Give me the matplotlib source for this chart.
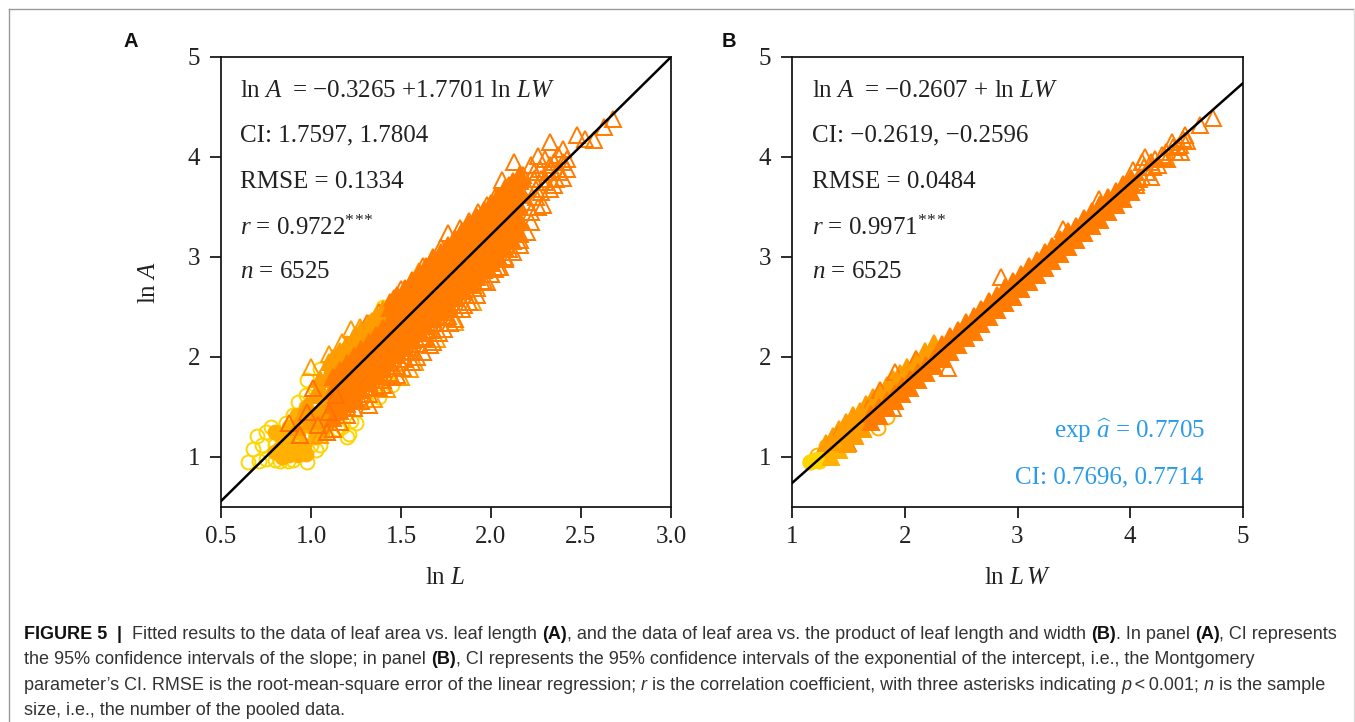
import matplotlib
matplotlib.use("Agg")
import matplotlib.pyplot as plt
from matplotlib.lines import Line2D

W, H = 1355, 722

plt.rcParams['font.family'] = ['Liberation Serif', 'DejaVu Serif']
plt.rcParams['mathtext.fontset'] = 'custom'
plt.rcParams['mathtext.rm'] = 'Liberation Serif'
plt.rcParams['mathtext.it'] = 'Liberation Serif:italic'
plt.rcParams['mathtext.bf'] = 'Liberation Serif:bold'

YELLOW = '#FFD500'
GOLD = '#FFB000'
AMBER = '#FF9C00'
ORANGE = '#FF7C00'
BLUE = '#2A9BE8'

# panel A, values
a_circle_x = [0.65, 0.71, 0.75, 0.80, 0.83, 0.87, 0.90, 0.98, 0.68, 0.70, 0.73, 0.75, 0.78, 0.80, 0.82, 0.85,
              0.86, 0.88, 0.90, 0.92, 0.93, 0.95, 0.97, 0.98, 1.00, 1.02, 1.03, 1.05, 1.05, 1.08, 1.10, 1.15,
              1.17, 1.20, 1.21, 1.22, 1.25, 1.30, 1.38, 1.45, 1.42, 1.40, 1.37]
a_circle_y = [0.95, 0.96, 0.98, 0.97, 0.96, 0.96, 0.97, 0.95, 1.08, 1.21, 1.12, 1.25, 1.30, 1.12, 1.22, 1.05,
              1.34, 1.15, 1.42, 1.05, 1.55, 1.20, 1.62, 1.77, 1.12, 1.68, 1.07, 1.12, 1.88, 1.24, 1.35, 1.28,
              1.30, 1.20, 1.23, 1.36, 1.34, 1.55, 1.60, 1.72, 1.78, 2.50, 2.38]
a_gold_x = [0.82, 0.86, 0.90, 0.93, 0.96, 0.99, 1.03, 0.88, 0.92, 0.97, 1.02, 1.07, 1.12, 0.80, 0.84, 0.88, 0.93, 0.97,
            0.84, 0.80, 1.06, 1.10, 0.88, 0.94]
a_gold_y = [1.08, 1.16, 1.06, 1.25, 1.12, 1.32, 1.20, 1.30, 1.42, 1.50, 1.34, 1.42, 1.50, 1.05, 1.00, 1.02, 1.02, 1.03,
            1.20, 1.25, 1.24, 1.36, 1.12, 1.40]
a_amber_core_x = [0.92, 0.95, 0.98, 1.02, 1.05, 1.08, 1.10, 1.13, 1.15, 1.18, 1.20, 1.23, 1.25, 1.30, 1.35, 1.40, 1.46,
                  1.00, 1.04, 1.08, 1.12, 1.16, 1.06, 1.10, 1.28, 1.33, 1.38, 1.44, 1.50]
a_amber_core_y = [1.30, 1.42, 1.52, 1.62, 1.78, 1.55, 1.95, 1.72, 2.02, 1.85, 2.10, 1.95, 2.22, 2.20, 2.28, 2.40, 2.50,
                  1.36, 1.44, 1.38, 1.50, 1.62, 1.66, 1.84, 2.10, 2.16, 2.30, 2.38, 2.55]
a_amber_x = [1.10, 1.22, 1.17, 1.27, 1.05, 1.12, 1.35, 1.42, 1.50, 1.58, 1.70, 1.80, 1.90, 1.86, 2.00, 1.55, 1.00, 1.34, 1.60]
a_amber_y = [2.03, 2.28, 2.15, 2.30, 1.22, 1.28, 1.58, 1.68, 1.80, 1.95, 2.18, 2.35, 2.55, 2.62, 2.83, 1.88, 1.90, 2.36, 2.86]
a_core_x = [1.12, 1.16, 1.20, 1.24, 1.28, 1.32, 1.36, 1.40, 1.44, 1.48, 1.52, 1.56, 1.60, 1.64, 1.68, 1.72, 1.76, 1.80,
            1.84, 1.88, 1.92, 1.96, 2.00, 2.04, 2.08, 2.12, 2.16]
a_core_mid = [1.66, 1.73, 1.80, 1.87, 1.94, 2.01, 2.08, 2.15, 2.22, 2.29, 2.36, 2.44, 2.51, 2.58, 2.65, 2.72, 2.79, 2.86,
              2.93, 3.00, 3.07, 3.14, 3.21, 3.28, 3.36, 3.43, 3.50]
a_core_up = [1.80, 1.87, 1.94, 2.01, 2.08, 2.15, 2.22, 2.29, 2.36, 2.43, 2.50, 2.57, 2.65, 2.72, 2.79, 2.86, 2.93, 3.00,
             3.07, 3.14, 3.21, 3.28, 3.35, 3.42, 3.50, 3.57, 3.64]
a_core_up2 = [1.93, 2.00, 2.07, 2.14, 2.21, 2.28, 2.35, 2.42, 2.49, 2.56, 2.63, 2.70, 2.78, 2.85, 2.92, 2.99, 3.06, 3.13,
              3.20, 3.27, 3.34, 3.41, 3.48, 3.55, 3.62, 3.69, 3.76]
a_core_up3 = [1.99, 2.06, 2.13, 2.20, 2.27, 2.34, 2.41, 2.48, 2.55, 2.62, 2.69, 2.77, 2.84, 2.91, 2.98, 3.05, 3.12, 3.19,
              3.26, 3.33, 3.40, 3.47, 3.54, 3.61, 3.69, 3.76, 3.83]
a_core_low = [1.52, 1.59, 1.66, 1.73, 1.80, 1.87, 1.94, 2.01, 2.08, 2.15, 2.22, 2.30, 2.37, 2.44, 2.51, 2.58, 2.65, 2.72,
              2.79, 2.86, 2.93, 3.00, 3.07, 3.14, 3.22, 3.29, 3.36]
a_core_low2 = [1.39, 1.46, 1.53, 1.60, 1.67, 1.74, 1.81, 1.88, 1.95, 2.02, 2.09, 2.17, 2.24, 2.31, 2.38, 2.45, 2.52, 2.59,
               2.66, 2.73, 2.80, 2.87, 2.94, 3.01, 3.09, 3.16, 3.23]
a_core_low3 = [1.28, 1.35, 1.42, 1.49, 1.56, 1.63, 1.70, 1.77, 1.84, 1.91, 1.98, 2.06, 2.13, 2.20, 2.27, 2.34, 2.41, 2.48,
               2.55, 2.62, 2.69, 2.76, 2.83, 2.90, 2.98, 3.05, 3.12]
a_tri_x = [1.31, 1.38, 1.46, 1.50, 1.56, 1.62, 1.68, 1.72, 1.76, 1.83, 1.88, 1.93, 1.98, 2.02, 2.06, 2.10, 2.13, 2.18,
           2.22, 2.26, 2.30, 2.33, 2.37, 2.40, 2.42, 2.48, 2.52, 2.57, 2.63, 2.68,
           1.32, 1.38, 1.51, 1.59, 1.66, 1.71, 1.77, 1.22, 1.20, 1.25, 1.30, 1.45, 1.55,
           1.63, 1.75, 1.85, 1.90, 1.95, 2.02, 2.08, 2.10, 2.16, 2.20, 2.22, 2.29, 2.25, 2.33, 2.35, 2.40, 2.38, 2.42,
           2.40, 2.28, 2.18, 2.12, 2.24, 2.33,
           2.16, 2.20, 2.24, 2.27, 2.30, 2.32, 2.35, 2.37, 2.20, 2.25, 2.28, 2.36, 2.22, 2.26,
           1.40, 1.48, 1.56, 1.62, 1.68, 1.74, 1.80, 1.84, 1.88, 1.92, 1.98, 2.05]
a_tri_y = [2.34, 2.45, 2.59, 2.68, 2.76, 2.91, 3.00, 3.10, 3.24, 3.29, 3.36, 3.45, 3.52, 3.60, 3.77, 3.72, 3.95, 3.82,
           3.92, 4.01, 3.98, 4.15, 4.02, 4.08, 3.98, 4.22, 4.18, 4.17, 4.30, 4.38,
           1.52, 1.69, 1.89, 2.00, 2.12, 2.24, 2.34, 1.74, 1.50, 1.58, 1.70, 1.80, 2.05,
           2.18, 2.40, 2.52, 2.72, 2.75, 2.88, 3.00, 3.08, 3.17, 3.25, 3.35, 3.52, 3.60, 3.68, 3.72, 3.79, 3.85, 3.88,
           3.95, 3.78, 3.62, 3.68, 3.85, 3.92,
           3.80, 3.70, 3.78, 3.88, 3.75, 3.85, 3.95, 3.88, 3.55, 3.68, 3.65, 3.78, 3.45, 3.50,
           1.72, 1.82, 1.95, 2.05, 2.15, 2.28, 2.38, 2.48, 2.55, 2.62, 2.75, 2.90]
a_top_tri_x = [1.01, 0.98, 0.88, 1.09, 1.04, 1.10, 0.94, 1.14]
a_top_tri_y = [1.69, 1.45, 1.34, 1.25, 1.32, 1.45, 1.22, 1.62]

# panel B, values
b_circle_x = [1.16, 1.20, 1.24, 1.28, 1.32, 1.36, 1.40, 1.76, 1.84, 1.30, 1.22]
b_circle_y = [0.95, 0.97, 0.96, 1.04, 1.02, 1.08, 1.12, 1.29, 1.40, 1.11, 1.02]
b_amber_x = [1.30, 1.36, 1.42, 1.48, 1.54, 1.60, 1.66, 1.72, 1.78, 1.84, 1.90, 1.96, 2.02, 2.10, 2.18, 2.26]
b_amber_y = [1.14, 1.21, 1.28, 1.35, 1.42, 1.46, 1.53, 1.60, 1.64, 1.72, 1.78, 1.84, 1.90, 1.98, 2.06, 2.14]
b_core_x = [1.35, 1.42, 1.49, 1.56, 1.63, 1.70, 1.77, 1.84, 1.91, 1.98, 2.05, 2.12, 2.19, 2.26, 2.33, 2.40, 2.47, 2.54,
            2.61, 2.68, 2.75, 2.82, 2.89, 2.96, 3.03, 3.10, 3.17, 3.24, 3.31, 3.38, 3.45, 3.52, 3.59, 3.66, 3.73, 3.80,
            3.87, 3.94, 4.01]
b_core_upper = [1.15, 1.22, 1.30, 1.37, 1.42, 1.50, 1.58, 1.64, 1.72, 1.78, 1.85, 1.93, 2.00, 2.06, 2.13, 2.21, 2.27, 2.35,
                2.41, 2.48, 2.56, 2.62, 2.70, 2.76, 2.83, 2.91, 2.97, 3.05, 3.11, 3.18, 3.26, 3.31, 3.39, 3.46, 3.53, 3.60,
                3.66, 3.73, 3.79]
b_core_mid = [1.08, 1.15, 1.22, 1.29, 1.36, 1.43, 1.50, 1.57, 1.64, 1.71, 1.78, 1.85, 1.92, 1.99, 2.06, 2.13, 2.20, 2.27,
              2.34, 2.41, 2.48, 2.55, 2.62, 2.69, 2.76, 2.83, 2.90, 2.97, 3.04, 3.11, 3.18, 3.25, 3.32, 3.39, 3.46, 3.53,
              3.60, 3.67, 3.74]
b_core_lower = [1.00, 1.07, 1.13, 1.21, 1.28, 1.35, 1.41, 1.49, 1.56, 1.63, 1.69, 1.77, 1.84, 1.91, 1.98, 2.05, 2.12, 2.19,
                2.25, 2.33, 2.40, 2.47, 2.54, 2.60, 2.68, 2.75, 2.82, 2.89, 2.96, 3.03, 3.10, 3.17, 3.24, 3.31, 3.37, 3.45,
                3.52, 3.58, 3.65]
b_tri_x = [4.73, 4.62, 4.49, 4.37, 4.13, 4.02, 4.18, 4.30, 4.42, 4.45, 4.25, 4.33, 3.92, 3.72, 1.91, 1.78, 1.67, 2.38, 1.90,
           1.50, 1.41, 2.10, 2.85, 3.40, 4.05, 4.10,
           4.05, 4.10, 4.15, 4.20, 4.22, 4.28, 4.32, 4.38, 4.40, 4.44, 4.47, 4.50, 4.12, 4.18, 4.08]
b_tri_y = [4.39, 4.32, 4.22, 4.15, 4.00, 3.87, 3.80, 4.00, 4.10, 4.05, 3.92, 3.98, 3.64, 3.58, 1.85, 1.67, 1.49, 1.89, 1.49,
           1.14, 1.22, 1.98, 2.80, 3.28, 3.75, 3.95,
           3.72, 3.80, 3.85, 3.90, 3.98, 4.02, 4.05, 4.10, 4.05, 4.12, 4.18, 4.16, 3.90, 3.95, 3.78]

a_ticks_x = [0.5, 1.0, 1.5, 2.0, 2.5, 3.0]
b_ticks_x = [1, 2, 3, 4, 5]
ticks_y = [1, 2, 3, 4, 5]

a_line_x = [0.5, 3.0]
a_line_y = [0.559, 5.0]
b_line_x = [1, 5]
b_line_y = [0.739, 4.739]

STARS = "$^{*}$$^{*}$$^{*}$"
a_notes = ["ln $A$ \u2009= \u22120.3265 +1.7701 ln $LW$", "CI: 1.7597, 1.7804", "RMSE = 0.1334",
           "$r$ = 0.9722" + STARS, "$n$ = 6525"]
b_notes = ["ln $A$ \u2009= \u22120.2607 + ln $LW$", "CI: \u22120.2619, \u22120.2596", "RMSE = 0.0484",
           "$r$ = 0.9971" + STARS, "$n$ = 6525"]


def fx(px):
    return px / W


def fy(py):
    return 1 - py / H


def hollow(ax, x, y, marker, color):
    ms = 12 if marker == '^' else 10
    ax.plot(x, y, marker, mfc='none', mec=color, ms=ms, mew=1.4, ls='none', zorder=3)


def solid(ax, x, y, marker, color):
    ms = 12 if marker == '^' else 10
    ax.plot(x, y, marker, mfc=color, mec=color, ms=ms, mew=1.4, ls='none', zorder=3)


def style_axes(ax, xticks, xlabels):
    ax.set_xticks(xticks)
    ax.set_xticklabels(xlabels)
    ax.set_yticks(ticks_y)
    ax.set_ylim(0.5, 5)
    ax.tick_params(axis='both', length=8, width=1.25, labelsize=18, color='#111111', labelcolor='#222222')
    ax.tick_params(axis='x', pad=6)
    ax.tick_params(axis='y', pad=7)
    for s in ax.spines.values():
        s.set_linewidth(1.25)
        s.set_color('#111111')


fig = plt.figure(figsize=(W / 100, H / 100), dpi=100)

ax_a = fig.add_axes([fx(221), fy(507), 450 / W, 450 / H])
ax_b = fig.add_axes([fx(792), fy(507), 451 / W, 450 / H])

hollow(ax_a, a_circle_x, a_circle_y, 'o', YELLOW)
solid(ax_a, a_gold_x, a_gold_y, 'o', GOLD)
hollow(ax_a, a_amber_x, a_amber_y, '^', AMBER)
solid(ax_a, a_amber_core_x, a_amber_core_y, '^', AMBER)
hollow(ax_a, a_tri_x, a_tri_y, '^', ORANGE)
hollow(ax_a, a_core_x, a_core_low3, '^', ORANGE)
solid(ax_a, a_core_x[:8], a_core_up3[:8], '^', AMBER)
solid(ax_a, a_core_x[8:], a_core_up3[8:], '^', ORANGE)
solid(ax_a, a_core_x[:8], a_core_up2[:8], '^', AMBER)
solid(ax_a, a_core_x[8:], a_core_up2[8:], '^', ORANGE)
for row in [a_core_up, a_core_mid, a_core_low, a_core_low2]:
    solid(ax_a, a_core_x, row, '^', ORANGE)
hollow(ax_a, a_top_tri_x, a_top_tri_y, '^', '#FF7000')
ax_a.plot(a_line_x, a_line_y, color='black', lw=1.8, zorder=4)
ax_a.set_xlim(0.5, 3.0)
style_axes(ax_a, a_ticks_x, ['%.1f' % t for t in a_ticks_x])

hollow(ax_b, b_circle_x, b_circle_y, 'o', GOLD)
solid(ax_b, b_circle_x[:4], b_circle_y[:4], 'o', YELLOW)
solid(ax_b, b_amber_x, b_amber_y, '^', AMBER)
hollow(ax_b, b_tri_x, b_tri_y, '^', ORANGE)
# left end of the band runs from gold through amber to orange
solid(ax_b, b_core_x[:2], b_core_mid[:2], '^', GOLD)
solid(ax_b, b_core_x[:2], b_core_lower[:2], '^', GOLD)
solid(ax_b, b_core_x[:14], b_core_upper[:14], '^', AMBER)
solid(ax_b, b_core_x[2:5], b_core_mid[2:5], '^', AMBER)
solid(ax_b, b_core_x[2:5], b_core_lower[2:5], '^', AMBER)
solid(ax_b, b_core_x[14:], b_core_upper[14:], '^', ORANGE)
solid(ax_b, b_core_x[5:], b_core_mid[5:], '^', ORANGE)
solid(ax_b, b_core_x[5:], b_core_lower[5:], '^', ORANGE)
ax_b.plot(b_line_x, b_line_y, color='black', lw=1.8, zorder=4)
ax_b.set_xlim(1, 5)
style_axes(ax_b, b_ticks_x, [str(t) for t in b_ticks_x])

# annotations, one line every 45 px
note_rows = [91, 135, 182, 228, 272]
for s, py in zip(a_notes, note_rows):
    fig.text(fx(240), fy(py), s, fontsize=18, color='#222222', va='center', ha='left', zorder=6)
for s, py in zip(b_notes, note_rows):
    fig.text(fx(812), fy(py), s, fontsize=18, color='#222222', va='center', ha='left', zorder=6)
fig.text(fx(1205), fy(431), "exp $\\widehat{a}$ = 0.7705", fontsize=18, color=BLUE, va='center', ha='right')
fig.text(fx(1203), fy(477), "CI: 0.7696, 0.7714", fontsize=18, color=BLUE, va='center', ha='right')

fig.text(fx(445), fy(578), "ln $L$", fontsize=18, color='#222222', ha='center', va='center')
fig.text(fx(1018), fy(578), "ln $L\\,W$", fontsize=18, color='#222222', ha='center', va='center')
fig.text(fx(149), fy(282), "ln $A$", fontsize=18, color='#222222', ha='center', va='center', rotation=90)

fig.text(fx(124), fy(47), "A", fontsize=14.5, fontweight='bold', family='Liberation Sans', color='#111111')
fig.text(fx(722), fy(47), "B", fontsize=14.5, fontweight='bold', family='Liberation Sans', color='#111111')

# figure frame
fig.add_artist(Line2D([fx(9), 1], [fy(9), fy(9)], color='#999999', lw=1))
fig.add_artist(Line2D([fx(9), fx(9)], [fy(9), 0], color='#999999', lw=1))
fig.add_artist(Line2D([fx(1354), fx(1354)], [fy(9), 0], color='#dddddd', lw=1))

# caption, runs of (text, weight, style) placed one after the other
caption = [
    (639, 13, [("FIGURE 5", 'bold', 'normal'), ("  |  ", 'bold', 'normal'),
               ("Fitted results to the data of leaf area vs. leaf length ", 'normal', 'normal'), ("(A)", 'bold', 'normal'),
               (", and the data of leaf area vs. the product of leaf length and width ", 'normal', 'normal'),
               ("(B)", 'bold', 'normal'), (". In panel ", 'normal', 'normal'), ("(A)", 'bold', 'normal'),
               (", CI represents", 'normal', 'normal')]),
    (664, 13, [("the 95% confidence intervals of the slope; in panel ", 'normal', 'normal'), ("(B)", 'bold', 'normal'),
               (", CI represents the 95% confidence intervals of the exponential of the intercept, i.e., the Montgomery",
                'normal', 'normal')]),
    (690, 13, [("parameter\u2019s CI. RMSE is the root-mean-square error of the linear regression; ", 'normal', 'normal'),
               ("r", 'normal', 'italic'),
               (" is the correlation coefficient, with three asterisks indicating ", 'normal', 'normal'),
               ("p", 'normal', 'italic'), ("\u2009<\u20090.001; ", 'normal', 'normal'), ("n", 'normal', 'italic'),
               (" is the sample", 'normal', 'normal')]),
    (715, 13, [("size, i.e., the number of the pooled data.", 'normal', 'normal')]),
]

fig.canvas.draw()
renderer = fig.canvas.get_renderer()
for py, size, runs in caption:
    px = 24
    for s, weight, style in runs:
        # leading and trailing blanks count towards the width here
        t = fig.text(fx(px), fy(py), s.replace(' ', '\u00a0'), fontsize=size, fontweight=weight, fontstyle=style,
                     family=['Liberation Sans', 'DejaVu Sans'], color='#333333' if weight == 'normal' else '#111111')
        px = t.get_window_extent(renderer).x1

fig.savefig('out.png', dpi=100)
